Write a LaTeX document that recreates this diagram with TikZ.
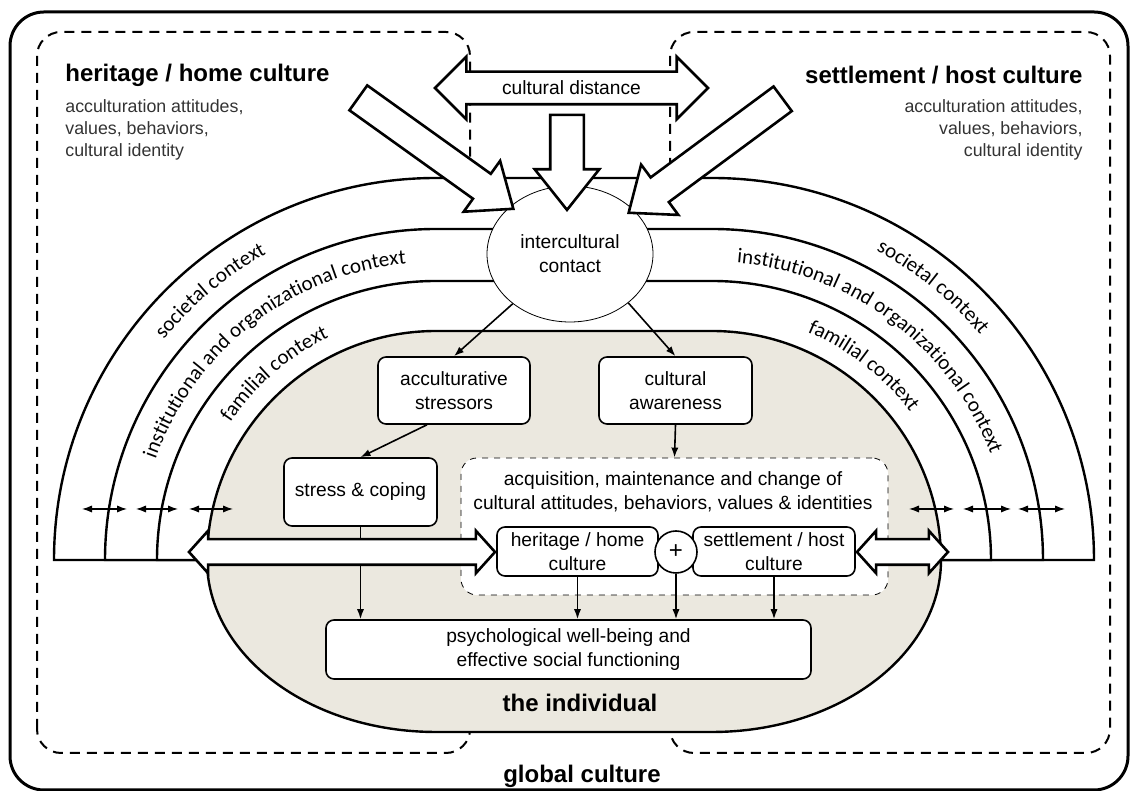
\documentclass[tikz,border=0pt]{standalone}
\usepackage{fontspec}
\setmainfont{Liberation Sans}
\newfontfamily\ctxfont{Carlito}
\usetikzlibrary{positioning, shapes.arrows, shapes.geometric, arrows.meta, decorations.text}

\definecolor{indiv}{RGB}{235,232,223}

\tikzset{
x=0.5pt, y=0.5pt, % one unit is one pixel of the sketch
every node/.style={font=\fontsize{9.6}{12}\selectfont, align=center},
box/.style={draw, thick, fill=white, rounded corners=4pt, inner sep=0pt}, % white boxes inside the individual
band/.style={draw, line width=1.2pt, fill=white}, % the context bands
bigarrow/.style={draw, line width=1.3pt, fill=white, inner xsep=0pt, inner ysep=#1}, % hollow block arrows, #1 = half shaft
link/.style={-{Latex[length=5pt,width=3.6pt]}, thick},
twoway/.style={{Latex[length=5pt,width=3.6pt]}-{Latex[length=5pt,width=3.6pt]}, semithick},
culture/.style={draw, line width=1pt, dash pattern=on 5pt off 3.5pt, rounded corners=12pt}, % heritage and host culture
title/.style={font=\fontsize{12}{14}\selectfont\bfseries, inner sep=0pt},
sub/.style={font=\fontsize{8.9}{11}\selectfont, text=black!80, inner sep=0pt},
ctx/.style={decorate, decoration={text along path, text align=center, text={|\ctxfont\fontsize{10.5}{12}\selectfont|#1}}},
}

% upper half of a band: radius #1, centred on the two corner points
\newcommand\bandshape[1]{(436-#1,231) arc[start angle=180, end angle=90, radius=#1*0.5pt] -- (712,231+#1) arc[start angle=90, end angle=0, radius=#1*0.5pt] -- cycle}

\begin{document}
\begin{tikzpicture}
    \useasboundingbox (0,0) rectangle (1137,791);

    % global culture and the two cultures
    \draw[line width=1.5pt, rounded corners=17pt] (10,1) rectangle (1128,779);
    \draw[culture] (37,38) rectangle (470,759);
    \draw[culture] (670,38) rectangle (1110,759);

    % contexts
    \draw[band] \bandshape{382};
    \draw[band] \bandshape{331};
    \draw[band] \bandshape{279};

    % the individual
    \draw[line width=1.2pt, fill=indiv] (207,231) arc[start angle=180, end angle=90, radius=114.5pt]
        -- (712,460) arc[start angle=90, end angle=0, radius=114.5pt]
        arc[start angle=0, end angle=-90, x radius=114.5pt, y radius=86pt]
        -- (436,59) arc[start angle=270, end angle=180, x radius=114.5pt, y radius=86pt] -- cycle;

    % arrows between the layers
    \foreach \i/\a/\b in {1/82/127, 2/136/178, 3/189/233, 4/909/954, 5/963/1011, 6/1018/1065}{
        \coordinate (sa\i) at (\a,282);
        \coordinate (sb\i) at (\b,282);
        \draw[twoway] (sa\i) -- (sb\i);
    }

    % labels on the bands
    \path[ctx={societal context}] ([shift={(436,231)}]175:175pt) arc[start angle=175, end angle=85, radius=175pt];
    \path[ctx={institutional and organizational context}] ([shift={(436,231)}]173:149pt) arc[start angle=173, end angle=83, radius=149pt];
    \path[ctx={familial context}] ([shift={(436,231)}]176:123.5pt) arc[start angle=176, end angle=86, radius=123.5pt];
    \path[ctx={societal context}] ([shift={(712,231)}]96:175pt) arc[start angle=96, end angle=6, radius=175pt];
    \path[ctx={institutional and organizational context}] ([shift={(712,231)}]98:149pt) arc[start angle=98, end angle=8, radius=149pt];
    \path[ctx={familial context}] ([shift={(712,231)}]97:123.5pt) arc[start angle=97, end angle=7, radius=123.5pt];

    % contact
    \node[draw, thin, fill=white, ellipse, minimum width=83pt, minimum height=68pt, inner sep=0pt] (contact) at (570,537) {intercultural\\contact};
    \node[bigarrow=7.5pt, double arrow, minimum height=136.5pt, double arrow head extend=7.5pt] (distance) at (571.5,703) {};
    \node (distancetext) at (571.5,703) {cultural distance};
    \node[bigarrow=7.75pt, single arrow, rotate=-90, anchor=tip, minimum height=47.5pt, single arrow head extend=7.75pt, single arrow tip angle=77] (down) at (567,579) {};
    \node[bigarrow=7pt, single arrow, rotate=-35.6, anchor=tip, minimum height=95.3pt, single arrow head extend=8pt, single arrow tip angle=78] (fromhome) at (515,581) {};
    \node[bigarrow=7pt, single arrow, rotate=216.5, anchor=tip, minimum height=95.8pt, single arrow head extend=8pt, single arrow tip angle=78] (fromhost) at (627,577) {};

    % inside the individual
    \node[box, minimum width=76pt, minimum height=33.5pt] (stressors) at (454,400.5) {acculturative\\stressors};
    \node[box, minimum width=76.5pt, minimum height=33.5pt] (awareness) at (675.5,400.5) {cultural\\awareness};
    \node[box, minimum width=76.5pt, minimum height=34pt] (coping) at (360.5,299) {stress \& coping};
    \node[draw, thin, dashed, fill=white, rounded corners=8pt, minimum width=213.5pt, minimum height=68.5pt] (change) at (674.5,264.5) {};
    \node (changetext) at (673,299.5) {acquisition, maintenance and change of\\cultural attitudes, behaviors, values \& identities};
    \node[box, minimum width=242.5pt, minimum height=29.5pt] (wellbeing) at (568.5,141.5) {psychological well-being and\\effective social functioning};

    \draw[link] (contact.221) -- (stressors.north);
    \draw[link] (contact.320) -- (awareness.north);
    \draw[link] ([xshift=-13.5pt]stressors.south) -- (coping.north);
    \draw[link] (awareness.south) -- (change.north);
    \draw[link] (coping.south) -- (coping.south |- wellbeing.north);

    \node[bigarrow=5.75pt, double arrow, minimum height=153pt, double arrow head extend=4.25pt, double arrow tip angle=96] (homelink) at (342,239) {};
    \node[bigarrow=5.75pt, double arrow, minimum height=45.5pt, double arrow head extend=4.25pt, double arrow tip angle=96] (hostlink) at (902.5,239) {};

    \node[box, minimum width=80.5pt, minimum height=24.5pt] (heritage) at (577.5,239.5) {heritage / home\\culture};
    \node[box, minimum width=81pt, minimum height=24.5pt] (settlement) at (774,239.5) {settlement / host\\culture};
    \node[draw, thick, circle, fill=white, minimum size=21pt, inner sep=0pt, font=\fontsize{12}{12}\selectfont] (plus) at (676,239) {+};

    \draw[link] (heritage.south) -- (heritage.south |- wellbeing.north);
    \draw[link] (plus.south) -- (plus.south |- wellbeing.north);
    \draw[link] (settlement.south) -- (settlement.south |- wellbeing.north);

    % titles
    \node[title, anchor=west] (home) at (65,716) {heritage / home culture};
    \node[sub, anchor=west, align=left] (homevalues) at (65,661) {acculturation attitudes,\\values, behaviors,\\cultural identity};
    \node[title, anchor=east] (host) at (1083,716) {settlement / host culture};
    \node[sub, anchor=east, align=right] (hostvalues) at (1083,661) {acculturation attitudes,\\values, behaviors,\\cultural identity};
    \node[title] (individual) at (580,88) {the individual};
    \node[title] (global) at (582,15) {global culture};
\end{tikzpicture}
\end{document}
